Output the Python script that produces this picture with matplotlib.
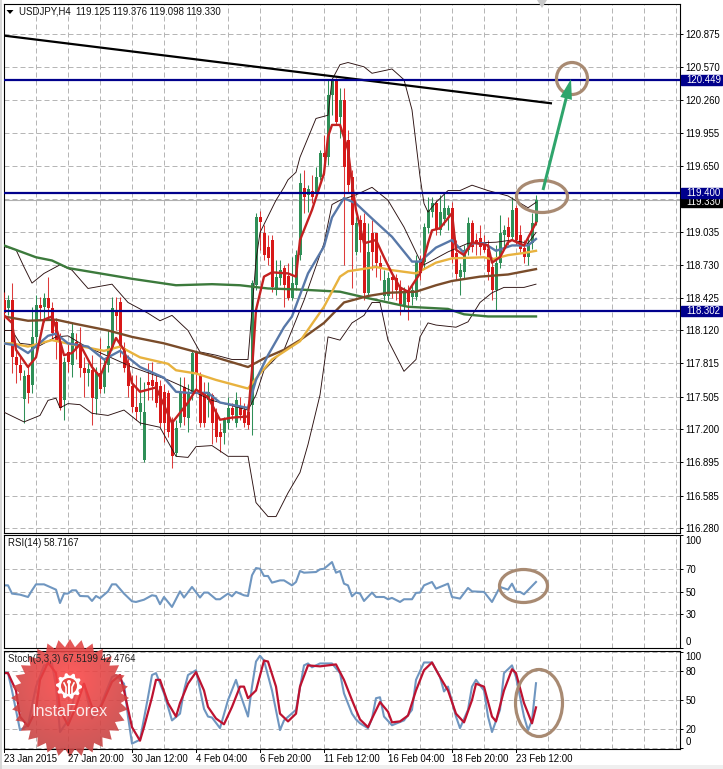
import numpy as np
import matplotlib
matplotlib.use("Agg")
import matplotlib.pyplot as plt
from matplotlib.patches import Ellipse, Polygon, Circle, Rectangle, FancyArrow
from matplotlib.transforms import blended_transform_factory as btf

W, H = 723, 769
plt.rcParams['font.family'] = ['Liberation Sans', 'DejaVu Sans']

opens = [118.40,118.33,118.40,117.87,117.80,117.48,117.71,117.61,118.06,118.36,118.34,118.42,118.33,118.20,118.01,117.47,117.92,117.80,118.01,117.97,
117.77,117.72,117.75,117.48,117.72,117.59,117.80,117.96,118.31,118.38,117.96,117.82,117.60,117.41,117.36,116.92,117.64,117.66,117.64,117.60,
117.55,117.54,117.29,116.98,117.26,117.59,117.31,117.54,117.91,117.71,117.55,117.47,117.52,117.35,117.18,117.17,117.26,117.40,117.26,117.41,
117.38,117.36,117.43,118.54,119.17,119.03,118.90,118.96,118.50,118.61,118.70,118.63,118.42,118.54,118.82,119.44,119.38,119.42,119.40,119.55,
119.77,119.73,120.31,120.45,120.10,120.26,119.89,119.55,118.85,119.15,119.12,118.47,119.03,119.03,118.75,118.44,118.44,118.62,118.61,118.52,
118.36,118.50,118.43,118.43,118.76,118.76,119.07,119.22,119.30,119.05,119.16,119.19,119.26,118.84,118.62,118.66,118.87,119.12,118.96,118.98,
118.93,118.88,118.71,118.50,118.75,119.01,119.08,118.99,119.26,119.01,118.89,118.80,118.93,119.125]
closes = [118.28,118.40,117.87,117.80,117.72,117.70,117.54,118.06,118.36,118.33,118.42,118.33,118.10,118.01,117.40,117.83,117.83,118.10,117.96,117.77,
117.72,117.76,117.49,117.73,117.58,117.80,117.98,118.33,118.25,117.96,117.77,117.60,117.41,117.36,117.45,117.36,117.61,117.60,117.45,117.26,
117.26,117.18,116.95,117.21,117.54,117.32,117.54,117.91,117.72,117.26,117.26,117.55,117.26,117.13,117.13,117.29,117.40,117.33,117.47,117.33,
117.26,117.24,118.56,119.17,119.13,118.82,118.79,118.52,118.62,118.68,118.54,118.42,118.56,118.82,119.49,119.36,119.43,119.36,119.55,119.77,
119.73,120.31,120.45,120.06,120.26,119.64,119.47,119.10,119.12,118.96,118.47,118.85,118.85,118.75,118.70,118.59,118.61,118.59,118.50,118.37,
118.47,118.38,118.50,118.76,118.65,119.08,119.24,119.30,119.05,119.22,119.26,119.26,118.80,118.64,118.68,118.87,119.12,118.90,118.93,118.90,
118.87,118.66,118.50,118.75,119.03,119.05,118.99,119.24,118.96,118.88,118.80,118.93,119.12,119.33]
highs = [118.48,118.45,118.56,117.94,117.87,117.75,117.80,118.34,118.45,118.43,118.47,118.62,118.38,118.24,118.10,117.87,117.99,118.19,118.10,118.15,
117.87,117.82,117.89,117.78,118.05,117.85,118.12,118.43,118.43,118.43,118.01,117.89,117.71,117.71,117.69,117.64,117.82,117.83,117.71,117.66,
117.62,117.57,117.32,117.29,117.69,117.69,117.62,117.94,117.94,117.73,117.64,117.64,117.54,117.40,117.26,117.32,117.50,117.45,117.55,117.50,
117.45,117.43,118.59,119.21,119.23,119.10,119.01,119.01,118.77,118.77,118.73,118.75,118.80,118.87,119.58,119.61,119.47,119.56,119.64,119.80,
119.94,120.45,120.45,120.47,120.37,120.37,119.98,119.61,119.17,119.19,119.21,119.12,119.15,119.03,118.82,118.68,118.66,118.66,118.64,118.59,
118.52,118.54,118.54,118.82,118.82,119.12,119.36,119.36,119.33,119.38,119.40,119.29,119.31,118.96,118.75,118.91,119.17,119.15,119.03,119.10,
119.01,118.96,118.80,118.91,119.19,119.10,119.17,119.36,119.29,119.10,118.96,119.01,119.21,119.376]
lows = [118.23,118.26,117.72,117.63,117.66,117.26,117.45,117.54,117.91,118.22,118.20,118.22,118.03,117.85,117.38,117.29,117.73,117.69,117.85,117.69,
117.50,117.60,117.24,117.34,117.54,117.54,117.73,117.94,118.12,117.87,117.73,117.50,117.36,117.29,117.24,116.90,117.47,117.47,117.41,117.22,
117.08,117.13,116.84,116.95,117.22,117.24,117.18,117.47,117.57,117.22,117.22,117.32,117.06,117.08,116.99,117.06,117.20,117.29,117.22,117.29,
117.22,117.20,117.15,118.50,118.87,118.77,118.73,118.48,118.45,118.54,118.34,118.40,118.40,118.50,118.77,119.21,119.22,119.30,119.35,119.52,
119.56,119.66,120.12,120.03,119.91,118.73,119.40,118.51,118.82,118.85,118.40,118.43,118.68,118.62,118.59,118.40,118.40,118.42,118.40,118.26,
118.31,118.22,118.36,118.40,118.59,118.70,119.03,119.17,119.01,119.01,119.10,119.05,118.75,118.59,118.45,118.61,118.82,118.85,118.82,118.82,
118.85,118.59,118.40,118.31,118.70,118.88,118.91,118.96,118.91,118.85,118.75,118.73,118.88,119.098]

ma_200_x = [0,8,12,16,24,32,43,52,59,66,74,84,91,101,111,115,121,133]
ma_200_y = [118.91,118.80,118.77,118.70,118.65,118.60,118.54,118.55,118.54,118.51,118.50,118.48,118.42,118.34,118.32,118.27,118.25,118.25]
ma_100_x = [0,6,13,18,26,32,40,46,52,61,65,70,74,80,85,91,96,103,108,112,119,126,133]
ma_100_y = [118.25,118.21,118.22,118.18,118.12,118.06,118.00,117.94,117.88,117.78,117.86,117.94,118.03,118.19,118.38,118.44,118.47,118.48,118.54,118.58,118.62,118.64,118.69]
ma_50_x = [0,2,6,12,17,25,29,34,41,43,48,53,61,64,67,74,80,84,86,93,97,103,108,112,120,122,126,130,133]
ma_50_y = [118.00,118.00,117.97,118.03,117.99,117.93,117.97,117.87,117.81,117.75,117.72,117.66,117.58,117.72,117.85,118.02,118.34,118.62,118.67,118.71,118.68,118.65,118.75,118.79,118.80,118.78,118.82,118.84,118.86]
ma_20_x = [0,3,6,11,13,16,21,25,29,34,40,43,46,51,54,61,63,66,70,72,76,80,82,85,88,92,97,102,104,108,112,115,117,120,123,127,131,133]
ma_20_y = [118.00,117.98,117.91,118.07,118.09,118.00,117.97,117.85,117.93,117.78,117.68,117.55,117.54,117.54,117.45,117.40,117.66,117.89,118.15,118.25,118.65,118.90,119.17,119.35,119.30,119.16,118.99,118.76,118.76,118.89,118.96,118.84,118.93,118.93,118.86,118.91,118.91,118.97]
ma_5_x = [0,2,3,6,8,10,12,13,15,17,19,22,24,26,28,30,32,34,38,42,46,48,51,54,57,61,62,63,65,67,71,73,74,77,80,81,82,84,86,87,88,90,93,95,97,99,101,104,106,107,109,112,113,115,117,121,122,124,126,127,130,131,133]
ma_5_y = [118.26,118.19,117.94,117.78,117.87,118.22,118.25,118.15,117.89,117.91,117.99,117.78,117.69,117.87,118.05,117.94,117.63,117.55,117.59,117.26,117.45,117.57,117.50,117.29,117.31,117.32,117.75,118.31,118.62,118.66,118.65,118.62,118.96,119.24,119.58,119.92,120.03,120.03,119.80,119.49,119.24,118.93,118.96,118.80,118.65,118.52,118.48,118.65,118.93,119.05,119.07,119.21,118.87,118.82,118.94,118.91,118.75,118.80,118.94,118.96,118.91,118.98,119.12]
bb_up_x = [0,3,5,7,10,14,17,21,27,31,36,39,42,46,49,53,57,61,63,64,68,70,71,73,74,78,81,82,84,86,90,92,97,100,102,104,105,106,108,111,114,117,121,126,131,133]
bb_up_y = [118.90,118.87,118.71,118.56,118.65,118.73,118.68,118.51,118.55,118.38,118.28,118.21,118.26,118.12,117.92,117.89,117.85,117.85,118.77,119.03,119.33,119.45,119.52,119.59,119.73,120.09,120.12,120.45,120.59,120.61,120.57,120.51,120.55,120.45,120.17,119.55,119.30,119.22,119.31,119.42,119.42,119.47,119.42,119.37,119.26,119.31]
bb_lo_x = [0,5,9,11,13,14,16,19,22,26,30,34,39,43,46,48,52,56,61,63,66,68,71,74,76,79,81,84,87,90,92,94,96,100,103,104,106,108,113,116,119,122,125,130,133]
bb_lo_y = [117.36,117.27,117.33,117.47,117.49,117.40,117.44,117.43,117.35,117.33,117.38,117.26,117.22,116.95,116.94,117.04,117.05,116.95,116.95,116.52,116.39,116.39,116.61,116.80,117.06,117.52,118.06,118.03,118.19,118.26,118.38,118.38,118.03,117.74,117.85,118.06,118.19,118.17,118.15,118.20,118.38,118.47,118.52,118.52,118.55]
bb_mid_x = [0,2,4,9,13,16,20,32,41,44,52,61,63,65,70,75,80,82,84,88,92,96,100,104,105,111,116,123,127,131,133]
bb_mid_y = [118.12,118.12,118.00,117.98,118.06,118.07,117.98,117.78,117.66,117.61,117.47,117.38,117.52,117.75,117.94,118.40,118.93,119.29,119.33,119.38,119.45,119.33,119.08,118.77,118.73,118.85,118.93,118.94,118.96,118.93,119.03]

level_values = [120.449, 119.400, 118.302]
last_price = 119.330
trend_x = [0, 137]
trend_y = [120.86, 120.23]

price_ticks = [120.875,120.570,120.260,119.955,119.650,119.345,119.035,118.730,118.425,118.120,117.815,117.505,117.200,116.895,116.585,116.280]
price_tick_labels = ['120.875','120.570','120.260','119.955','119.650','','119.035','118.730','118.425','118.120','117.815','117.505','117.200','116.895','116.585','116.280']

rsi_x = [0,1,2,4,6,7,8,10,13,14,15,16,17,18,19,21,22,23,24,26,27,28,30,32,33,35,37,38,39,40,42,44,45,47,49,50,51,53,54,56,57,58,60,61,62,63,64,65,66,67,69,70,72,73,74,75,78,79,80,82,83,84,85,86,87,88,89,90,92,93,95,96,97,99,100,102,103,104,105,107,108,110,111,112,114,116,117,120,122,124,126,127,128,129,130,133]
rsi_v = [55.7,55.7,48.4,47.5,45.4,51.3,56.6,56.6,51.9,40.1,48.4,48.4,51.3,51.3,46.3,46.0,41.9,46.3,44.3,50.4,56.6,56.6,48.4,41.6,41.0,43.0,46.9,46.3,39.0,45.4,36.6,50.4,44.9,54.3,44.9,49.3,49.3,43.4,43.4,48.4,46.0,49.9,46.9,46.3,64.6,71.0,70.4,64.0,64.0,58.1,60.1,60.1,55.7,58.7,68.4,66.9,67.5,69.9,70.4,76.3,66.9,68.4,57.2,55.7,46.0,49.3,48.4,41.9,49.3,45.4,45.4,43.4,44.6,41.0,43.4,43.4,49.0,49.3,55.7,58.7,52.8,55.7,57.2,45.4,44.0,53.4,50.4,49.9,41.0,54.3,51.9,57.2,49.9,49.9,47.8,58.7167]

sto_main_x = [0,1,2,4,6,8,10,12,13,14,16,18,20,22,24,27,28,30,31,32,34,36,37,38,40,42,44,45,46,48,50,51,52,54,56,58,59,61,62,63,64,65,67,69,70,73,75,76,77,79,82,84,85,87,88,89,91,92,93,94,95,97,100,102,103,105,107,109,110,111,113,114,116,117,118,120,121,122,124,125,127,128,130,131,132,133]
sto_main_v = [79,78,60,19,24,64,86,88,64,17,29,60,67,31,43,74,76,67,33,5,9,53,76,78,57,29,36,60,76,81,41,33,32,21,50,71,57,33,64,90,96,91,60,19,29,40,86,88,84,88,88,78,57,36,30,26,21,31,52,53,33,24,29,40,71,89,89,74,59,64,33,21,40,64,71,60,33,17,40,78,86,74,33,19,29,67.5199]
sto_sig_x = [0,1,3,4,6,8,9,11,13,14,16,18,20,22,24,27,29,30,32,34,35,37,38,39,41,43,44,46,48,50,51,53,55,57,59,60,61,63,65,66,68,69,71,73,74,76,79,83,85,87,89,91,92,94,96,97,99,101,103,105,107,109,111,113,115,117,118,120,122,123,125,127,128,130,132,133]
sto_sig_v = [78,78,60,33,23,40,71,89,78,40,24,43,67,43,41,69,76,60,22,8,22,53,71,71,47,33,47,67,79,60,43,31,25,43,64,64,52,60,91,90,64,36,28,36,64,86,85,87,71,50,30,22,31,48,38,27,28,34,60,81,89,74,60,36,27,50,67,64,33,28,60,82,78,47,26,42.4764]

rsi_ticks = [0, 30, 50, 70, 100]
rsi_labels = ['', '30', '50', '70', '']
sto_ticks = [0, 20, 50, 80, 100]
sto_labels = ['', '20', '50', '80', '']
date_labels = ['23 Jan 2015','27 Jan 20:00','30 Jan 12:00','4 Feb 04:00','6 Feb 20:00','11 Feb 12:00','16 Feb 04:00','18 Feb 20:00','23 Feb 12:00']

BLACK = '#000000'
GRID = '#b6b6b6'
C_UP = '#2f8f57'
C_DN = '#d81818'
NAVY = '#00008c'
FS = 6.9

fig = plt.figure(figsize=(W/100, H/100), dpi=100, facecolor='white')

def panel(l, t, r, b):
    return fig.add_axes([l/W, 1-b/H, (r-l)/W, (b-t)/H])

ax = panel(3.5, 4, 679.5, 532.5)
ax_r = panel(3.5, 534.5, 679.5, 648.3)
ax_s = panel(3.5, 650.7, 679.5, 749)
XLIM = (-0.125, 168.875)
ppx = 107.6
ax.set_ylim(120.875 - (532.5-34)/ppx, 120.875 + 30/ppx)
ax_r.set_ylim(0, 100.7)
ax_s.set_ylim(-0.6, 101.2)

for a in (ax, ax_r, ax_s):
    a.set_xlim(*XLIM)
    a.set_xticks(np.arange(0, 169, 8))
    a.set_xticklabels([])
    a.tick_params(axis='x', length=0)
    a.grid(True, color=GRID, lw=0.72, linestyle=(0, (5, 3)))
    a.set_axisbelow(True)
    a.yaxis.tick_right()
    a.tick_params(axis='y', length=2.5, width=0.7, pad=2.0, labelsize=FS, colors=BLACK)
    for s in a.spines.values():
        s.set_linewidth(0.8)
        s.set_color(BLACK)

ax.set_yticks(price_ticks)
ax.set_yticklabels(price_tick_labels)
ax_r.set_yticks(rsi_ticks)
ax_r.set_yticklabels(rsi_labels)
ax_s.set_yticks(sto_ticks)
ax_s.set_yticklabels(sto_labels)

# candles
xs = np.arange(len(opens))
o, c, hi, lo = map(np.array, (opens, closes, highs, lows))
up = c >= o
ax.vlines(xs[up], lo[up], hi[up], color=C_UP, lw=0.75, zorder=3)
ax.vlines(xs[~up], lo[~up], hi[~up], color=C_DN, lw=0.75, alpha=0.85, zorder=3)
ax.bar(xs[up], (c-o)[up], bottom=o[up], width=0.75, color=C_UP, lw=0, zorder=3)
ax.bar(xs[~up], (c-o)[~up], bottom=o[~up], width=0.75, color=C_DN, lw=0, zorder=3)

# bands and averages
ax.plot(bb_up_x, bb_up_y, color='#2a1010', lw=0.65, zorder=4)
ax.plot(bb_lo_x, bb_lo_y, color='#2a1010', lw=0.65, zorder=4)
ax.plot(bb_mid_x, bb_mid_y, color='#2a1010', lw=0.65, zorder=4)
ax.plot(ma_200_x, ma_200_y, color='#3c7a3c', lw=1.7, zorder=5)
ax.plot(ma_100_x, ma_100_y, color='#7a4c2a', lw=1.7, zorder=5)
ax.plot(ma_50_x, ma_50_y, color='#e8b23e', lw=1.7, zorder=5)
ax.plot(ma_20_x, ma_20_y, color='#5878a8', lw=1.7, zorder=5)
ax.plot(ma_5_x, ma_5_y, color='#c42020', lw=1.7, zorder=6)

# levels
ax.axhline(last_price, color='#b0b0b0', lw=0.8, zorder=2)
ax.plot(trend_x, trend_y, color='black', lw=1.6, zorder=7, solid_capstyle='butt')
for v in level_values:
    ax.axhline(v, color=NAVY, lw=1.6, zorder=8)

tr = btf(ax.transAxes, ax.transData)
bw = 41/676
bh = 10/ppx
ax.add_patch(Rectangle((1.0022, last_price-bh/2-0.012), bw, bh, transform=tr, color='black', clip_on=False, zorder=9))
ax.text(1.0095, last_price-0.012, '%.3f' % last_price, transform=tr, color='white', fontsize=FS, va='center', ha='left', clip_on=False, zorder=9)
for v in level_values:
    ax.add_patch(Rectangle((1.0022, v-bh/2), bw, bh, transform=tr, color=NAVY, clip_on=False, zorder=10))
    ax.text(1.0095, v, '%.3f' % v, transform=tr, color='white', fontsize=FS, va='center', ha='left', clip_on=False, zorder=11)

# oscillators
ax_r.plot(rsi_x, rsi_v, color='#6f96c0', lw=1.5)
ax_s.plot(sto_main_x, sto_main_v, color='#6f96c0', lw=1.5)
ax_s.plot(sto_sig_x, sto_sig_v, color='#bd1230', lw=1.6)

# overlay in pixel coordinates for the hand-drawn notes
ov = fig.add_axes([0, 0, 1, 1], zorder=20)
ov.set_xlim(0, W)
ov.set_ylim(H, 0)
ov.axis('off')
ov.patch.set_alpha(0)

BR = '#a88a72'
for cx, cy, w, h in [(542, 196.5, 51, 32), (572, 78.5, 31, 32), (523.5, 586, 48, 33), (539, 703, 47, 67)]:
    ov.add_patch(Ellipse((cx, cy), w, h, fill=False, ec=BR, lw=2.3))
ov.add_patch(FancyArrow(543, 190, 28, -111, width=3, head_width=12, head_length=20,
                        length_includes_head=True, color='#2fa56c', lw=0))
ov.add_patch(Polygon([[537, 0], [547, 0], [542, 8]], closed=True, color='#c8c8c8', lw=0))
ov.add_patch(Polygon([[6.5, 10], [13.5, 10], [10, 14]], closed=True, color='black', lw=0))

# badge
bc = (70, 698)
n = 32
ang = np.linspace(0, 2*np.pi, 2*n, endpoint=False) - np.pi/2
rad = np.where(np.arange(2*n) % 2 == 0, 59, 51)
star = np.c_[bc[0] + rad*np.cos(ang), bc[1] + rad*np.sin(ang)]
clip = Polygon(star, closed=True, transform=ov.transData, fc='none', ec='none')
ov.add_patch(clip)
gy, gx = np.mgrid[0:1:120j, 0:1:120j]
rr = np.hypot(gx-0.5, gy-0.35)
t = np.clip(rr/0.75, 0, 1)[..., None]
rgba = np.dstack([(1-t)*np.array([[[1.0, 0.27, 0.27]]]) + t*np.array([[[0.72, 0.25, 0.25]]]),
                  np.full((120, 120), 0.88)])
im = ov.imshow(rgba, extent=(bc[0]-60, bc[0]+60, bc[1]+60, bc[1]-60), aspect='auto', zorder=3)
im.set_clip_path(clip)
ov.set_xlim(0, W)
ov.set_ylim(H, 0)

# gear icon
gc = (69, 686)
m = 10
ang2 = np.linspace(0, 2*np.pi, 4*m, endpoint=False)
rad2 = np.where(np.arange(4*m) % 4 < 2, 13, 10.5)
ov.add_patch(Polygon(np.c_[gc[0]+rad2*np.cos(ang2), gc[1]+rad2*np.sin(ang2)], closed=True, color='white', lw=0, zorder=4))
ov.add_patch(Circle(gc, 8, color='#e64a44', lw=0, zorder=5))
ov.add_patch(Circle((gc[0], gc[1]-4), 2, color='white', lw=0, zorder=6))
ov.plot([gc[0], gc[0]], [gc[1]-2, gc[1]+9], color='white', lw=1.5, zorder=6)
ov.plot([gc[0]-5, gc[0]-3, gc[0]-3], [gc[1]-3, gc[1]+1, gc[1]+9], color='white', lw=1.2, zorder=6)
ov.plot([gc[0]+5, gc[0]+3, gc[0]+3], [gc[1]-3, gc[1]+1, gc[1]+9], color='white', lw=1.2, zorder=6)
ov.text(69.5, 711, 'InstaForex', color='#fbeaea', fontsize=11.6, family='Liberation Sans', ha='center', va='center', zorder=7)

# texts
ov.text(19, 12, 'USDJPY,H4  119.125 119.376 119.098 119.330', fontsize=FS, va='center', color='#111111', zorder=8)
ov.text(8, 543.5, 'RSI(14) 58.7167', fontsize=FS, va='center', color='#111111', zorder=8)
ov.text(8, 659.5, 'Stoch(5,3,3) 67.5199 42.4764', fontsize=FS, va='center', color='#222222', zorder=8)
for y, s in [(541, '100'), (642, '0'), (657, '100'), (742, '0')]:
    ov.text(685.5, y, s, fontsize=FS, va='center', color='black', zorder=8)
for k, s in enumerate(date_labels):
    x = 4 + 64*k
    ov.plot([x, x], [749, 752], color='black', lw=0.7, zorder=8)
    ov.text(x - 0.5, 758.5, s, fontsize=FS, va='center', ha='left', color='black', zorder=8)

# bottom strip
ov.add_patch(Rectangle((0, 765), W, 4, color='#efefef', lw=0, zorder=1))
ov.add_patch(Rectangle((0, 0), 1.5, H, color='#d8d8d8', lw=0, zorder=1))

fig.savefig('out.png', dpi=100, facecolor='white')
